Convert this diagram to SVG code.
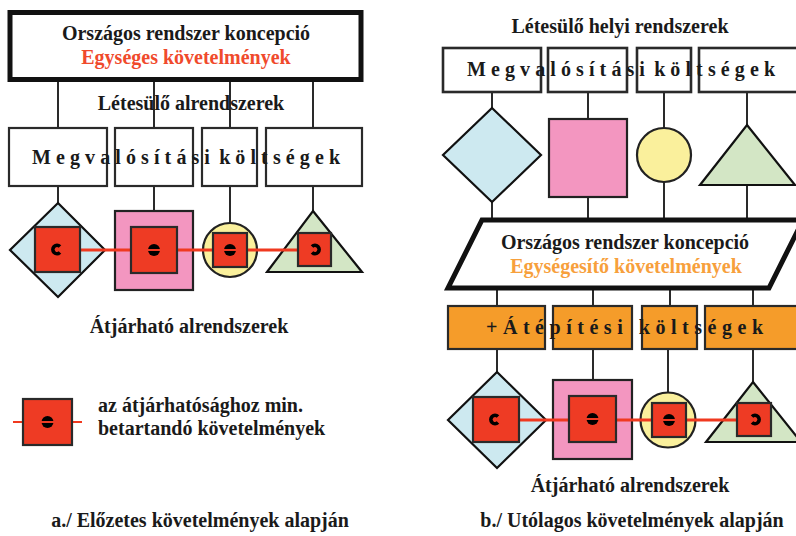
<svg xmlns="http://www.w3.org/2000/svg" width="796" height="536" viewBox="0 0 796 536">
<style>
text{font-family:"Liberation Serif","Times New Roman",serif;font-weight:bold;font-size:20px;fill:#1a1a1a}
.c{text-anchor:middle}
.red{fill:#f04a2c}
.org{fill:#f7a03c}
.thick{fill:#fff;stroke:#111;stroke-width:5}
.box{fill:#fff;stroke:#2a2a2a;stroke-width:2.2}
.obox{fill:#f59c2a;stroke:#2a2a2a;stroke-width:2.2}
.conn{stroke:#2a2a2a;stroke-width:2;fill:none}
.rl{stroke:#f0391f;stroke-width:3;fill:none}
.dia{fill:#cde9f0;stroke:#111;stroke-width:2.2}
.pink{fill:#f396c0;stroke:#222;stroke-width:2.2}
.yel{fill:#faf09c;stroke:#222;stroke-width:2.2}
.grn{fill:#d3e6c5;stroke:#111;stroke-width:2.2}
.rsq{fill:#ee3b24;stroke:#2a2a2a;stroke-width:2.2}
.sym{fill:none;stroke:#000;stroke-width:3.6}
</style>
<defs>
<g id="cl"><path class="sym" d="M3,-3 A4.2,4.2 0 1 0 3,3"/></g>
<g id="cr"><path class="sym" d="M-3,-3 A4.2,4.2 0 1 1 -3,3"/></g>
<g id="eq"><circle r="6" fill="#000"/><rect x="-7" y="-1" width="14" height="2" fill="#ee3b24"/></g>
</defs>

<!-- ===== Left panel ===== -->
<g id="connectors-left">
<line class="conn" x1="58" y1="82" x2="58" y2="128"/>
<line class="conn" x1="154" y1="82" x2="154" y2="128"/>
<line class="conn" x1="230" y1="82" x2="230" y2="128"/>
<line class="conn" x1="313" y1="82" x2="313" y2="128"/>
<line class="conn" x1="58" y1="186" x2="58" y2="203"/>
<line class="conn" x1="154" y1="186" x2="154" y2="211"/>
<line class="conn" x1="230" y1="186" x2="230" y2="223"/>
<line class="conn" x1="313" y1="186" x2="313" y2="211"/>
</g>

<g id="left-top">
<rect class="thick" x="10" y="12.5" width="351" height="67"/>
<text class="c" x="186" y="40">Országos rendszer koncepció</text>
<text class="c red" x="186" y="64">Egységes követelmények</text>
</g>

<text id="left-label1" class="c" x="191" y="110">Létesülő alrendszerek</text>

<g id="left-boxes">
<rect class="box" x="9" y="128" width="98" height="58"/>
<rect class="box" x="115" y="128" width="78" height="58"/>
<rect class="box" x="202" y="128" width="55" height="58"/>
<rect class="box" x="266" y="128" width="96" height="58"/>
<text x="32" y="164" textLength="308" lengthAdjust="spacing" style="word-spacing:-6px">Megvalósítási költségek</text>
</g>

<g id="left-diamond">
<polygon class="dia" points="58,203 105,250 58,297 10,250"/>
</g>
<g id="left-square">
<rect class="pink" x="115" y="211" width="78" height="79"/>
</g>
<g id="left-circle">
<circle class="yel" cx="230" cy="250" r="27"/>
</g>
<g id="left-triangle">
<polygon class="grn" points="313,211 362,272 267,272"/>
</g>

<g id="left-interop">
<line class="rl" x1="80" y1="250" x2="298" y2="250"/>
<rect class="rsq" x="35" y="227" width="45" height="45"/>
<use href="#cl" x="57" y="249.5"/>
<rect class="rsq" x="131" y="227" width="46" height="46"/>
<use href="#eq" x="154" y="250"/>
<rect class="rsq" x="213" y="233" width="34" height="34"/>
<use href="#eq" x="230" y="250"/>
<rect class="rsq" x="298" y="233" width="33" height="33"/>
<use href="#cr" x="315" y="249.5"/>
</g>

<text id="left-label2" class="c" x="189" y="333">Átjárható alrendszerek</text>

<g id="legend">
<line class="rl" x1="13" y1="422" x2="82" y2="422" style="stroke-width:2"/>
<rect class="rsq" x="23" y="399" width="49" height="46"/>
<use href="#eq" x="47.5" y="422"/>
<text x="98" y="412">az átjárhatósághoz min.</text>
<text x="98" y="435">betartandó követelmények</text>
</g>

<text id="caption-a" class="c" x="200" y="527">a./ Előzetes követelmények alapján</text>

<!-- ===== Right panel ===== -->
<g id="connectors-right">
<line class="conn" x1="492" y1="92" x2="492" y2="108"/>
<line class="conn" x1="588" y1="92" x2="588" y2="119"/>
<line class="conn" x1="664" y1="92" x2="664" y2="128"/>
<line class="conn" x1="747" y1="92" x2="747" y2="125"/>
<line class="conn" x1="492" y1="202" x2="492" y2="220"/>
<line class="conn" x1="588" y1="197" x2="588" y2="220"/>
<line class="conn" x1="664" y1="182" x2="664" y2="220"/>
<line class="conn" x1="747" y1="185" x2="747" y2="220"/>
<line class="conn" x1="497" y1="288" x2="497" y2="306"/>
<line class="conn" x1="593" y1="288" x2="593" y2="306"/>
<line class="conn" x1="670" y1="288" x2="670" y2="306"/>
<line class="conn" x1="753" y1="288" x2="753" y2="306"/>
<line class="conn" x1="497" y1="349" x2="497" y2="372"/>
<line class="conn" x1="593" y1="349" x2="593" y2="380"/>
<line class="conn" x1="668" y1="349" x2="668" y2="392"/>
<line class="conn" x1="753" y1="349" x2="753" y2="382"/>
</g>

<text id="right-label1" class="c" x="620" y="33">Létesülő helyi rendszerek</text>

<g id="right-boxes">
<rect class="box" x="443" y="48" width="98" height="44" style="stroke-width:2.6"/>
<rect class="box" x="548" y="48" width="79" height="44" style="stroke-width:2.6"/>
<rect class="box" x="637" y="48" width="54" height="44" style="stroke-width:2.6"/>
<rect class="box" x="699" y="48" width="100" height="44" style="stroke-width:2.6"/>
<text x="467" y="76" textLength="308" lengthAdjust="spacing" style="word-spacing:-6px">Megvalósítási költségek</text>
</g>

<g id="right-diamond">
<polygon class="dia" points="492,108 541,155 492,202 443,155"/>
</g>
<g id="right-square">
<rect class="pink" x="549" y="119" width="78" height="78"/>
</g>
<g id="right-circle">
<circle class="yel" cx="664" cy="155" r="27"/>
</g>
<g id="right-triangle">
<polygon class="grn" points="747,125 795,185 700,185"/>
</g>

<g id="right-concept">
<polygon class="thick" points="482,220 803,220 769,288 448,288"/>
<text class="c" x="625" y="249">Országos rendszer koncepció</text>
<text class="c org" x="626" y="273">Egységesítő követelmények</text>
</g>

<g id="right-orange-boxes">
<rect class="obox" x="448" y="306" width="97" height="43"/>
<rect class="obox" x="553" y="306" width="79" height="43"/>
<rect class="obox" x="642" y="306" width="55" height="43"/>
<rect class="obox" x="705" y="306" width="95" height="43"/>
<text x="486" y="334" textLength="277" lengthAdjust="spacing">+Átépítési költségek</text>
</g>

<g id="right-diamond2">
<polygon class="dia" points="497,372 546,420 497,468 448,420"/>
</g>
<g id="right-square2">
<rect class="pink" x="553" y="380" width="79" height="79"/>
</g>
<g id="right-circle2">
<circle class="yel" cx="668" cy="420" r="27.5"/>
</g>
<g id="right-triangle2">
<polygon class="grn" points="753,382 801,442 706,442"/>
</g>

<g id="right-interop">
<line class="rl" x1="519" y1="420" x2="737" y2="420"/>
<rect class="rsq" x="473" y="397" width="46" height="45"/>
<use href="#cl" x="495" y="419.5"/>
<rect class="rsq" x="569" y="396" width="47" height="46"/>
<use href="#eq" x="592.5" y="419"/>
<rect class="rsq" x="652" y="403" width="34" height="34"/>
<use href="#eq" x="669" y="420"/>
<rect class="rsq" x="737" y="403" width="34" height="33"/>
<use href="#cr" x="755" y="419.5"/>
</g>

<text id="right-label2" class="c" x="630" y="492">Átjárható alrendszerek</text>
<text id="caption-b" class="c" x="632" y="527">b./ Utólagos követelmények alapján</text>
</svg>
